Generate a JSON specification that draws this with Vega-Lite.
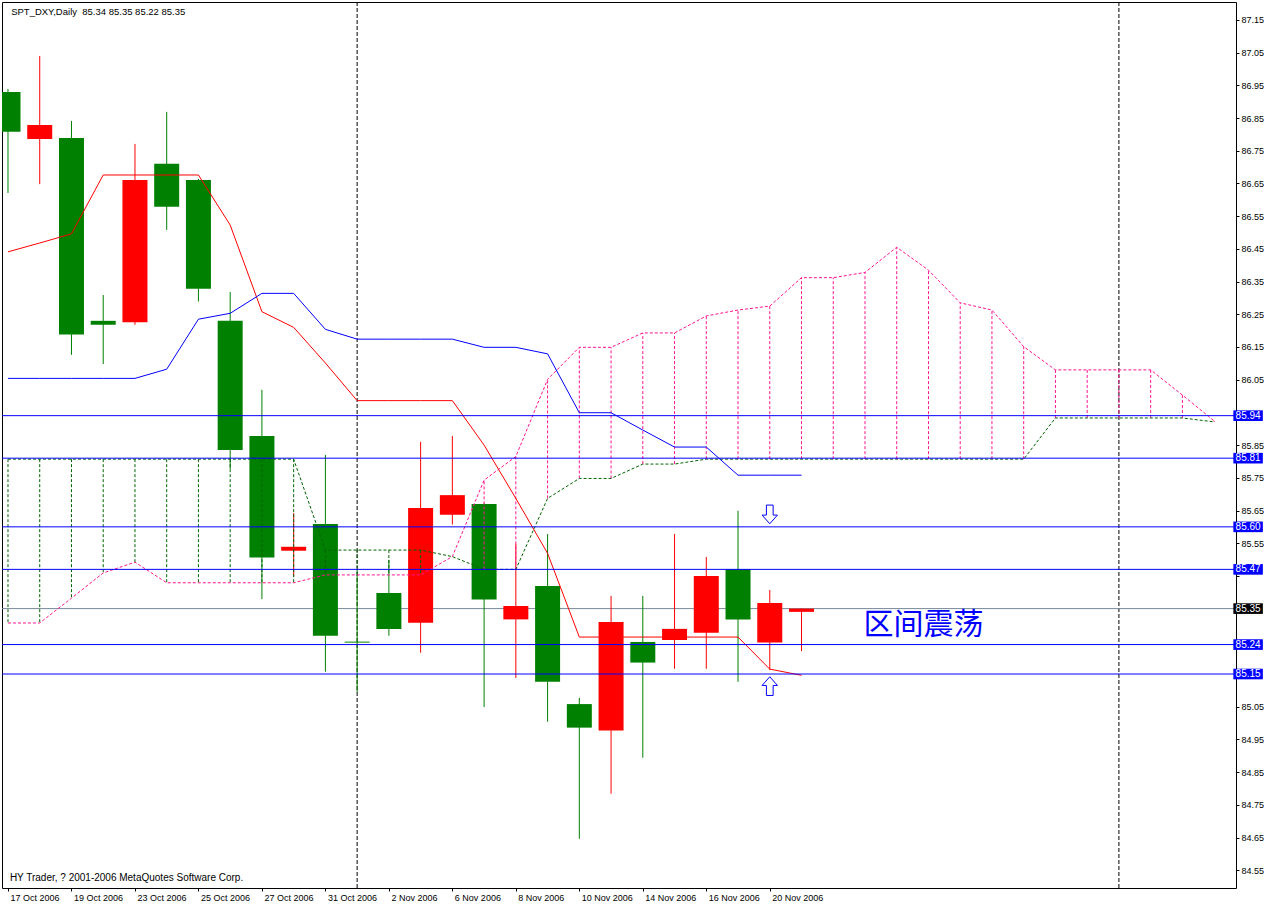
{
  "$schema": "https://vega.github.io/schema/vega-lite/v6.json",
  "width": 1234,
  "height": 886,
  "autosize": {"type": "none"},
  "padding": {"left": 2, "top": 2, "right": 38, "bottom": 17},
  "background": "white",
  "config": {
    "view": {"stroke": "black", "strokeWidth": 1},
    "font": "Liberation Sans",
    "axis": {"labelFont": "Liberation Sans", "labelFontSize": 9, "labelColor": "black", "tickColor": "black", "tickSize": 3, "domain": false, "grid": false, "labelPadding": 2, "labelFlush": false, "labelOverlap": false, "labelBound": false}
  },
  "datasets": {
    "bars": [
      {"i": 0, "o": 86.930, "h": 86.939, "l": 86.621, "c": 86.808, "t": 86.441, "k": 86.054},
      {"i": 1, "o": 86.786, "h": 87.040, "l": 86.648, "c": 86.829, "t": 86.468, "k": 86.054},
      {"i": 2, "o": 86.789, "h": 86.841, "l": 86.126, "c": 86.188, "t": 86.496, "k": 86.054},
      {"i": 3, "o": 86.230, "h": 86.309, "l": 86.098, "c": 86.218, "t": 86.676, "k": 86.054},
      {"i": 4, "o": 86.226, "h": 86.771, "l": 86.218, "c": 86.661, "t": 86.676, "k": 86.054},
      {"i": 5, "o": 86.710, "h": 86.869, "l": 86.508, "c": 86.579, "t": 86.676, "k": 86.082},
      {"i": 6, "o": 86.661, "h": 86.664, "l": 86.289, "c": 86.328, "t": 86.676, "k": 86.235},
      {"i": 7, "o": 86.230, "h": 86.318, "l": 85.777, "c": 85.835, "t": 86.523, "k": 86.253},
      {"i": 8, "o": 85.878, "h": 86.019, "l": 85.379, "c": 85.506, "t": 86.258, "k": 86.314},
      {"i": 9, "o": 85.527, "h": 85.642, "l": 85.447, "c": 85.539, "t": 86.210, "k": 86.314},
      {"i": 10, "o": 85.609, "h": 85.820, "l": 85.157, "c": 85.267, "t": 86.101, "k": 86.204},
      {"i": 11, "o": 85.249, "h": 85.462, "l": 85.095, "c": 85.246, "t": 85.986, "k": 86.174},
      {"i": 12, "o": 85.398, "h": 85.499, "l": 85.267, "c": 85.288, "t": 85.986, "k": 86.174},
      {"i": 13, "o": 85.307, "h": 85.860, "l": 85.215, "c": 85.658, "t": 85.986, "k": 86.174},
      {"i": 14, "o": 85.637, "h": 85.878, "l": 85.607, "c": 85.697, "t": 85.986, "k": 86.174},
      {"i": 15, "o": 85.670, "h": 85.672, "l": 85.049, "c": 85.378, "t": 85.850, "k": 86.149},
      {"i": 16, "o": 85.317, "h": 85.548, "l": 85.138, "c": 85.358, "t": 85.687, "k": 86.149},
      {"i": 17, "o": 85.419, "h": 85.578, "l": 85.004, "c": 85.126, "t": 85.519, "k": 86.129},
      {"i": 18, "o": 85.058, "h": 85.077, "l": 84.646, "c": 84.986, "t": 85.263, "k": 85.949},
      {"i": 19, "o": 84.977, "h": 85.389, "l": 84.784, "c": 85.309, "t": 85.263, "k": 85.949},
      {"i": 20, "o": 85.248, "h": 85.389, "l": 84.894, "c": 85.185, "t": 85.263, "k": 85.896},
      {"i": 21, "o": 85.254, "h": 85.578, "l": 85.166, "c": 85.288, "t": 85.263, "k": 85.844},
      {"i": 22, "o": 85.276, "h": 85.508, "l": 85.166, "c": 85.450, "t": 85.263, "k": 85.844},
      {"i": 23, "o": 85.470, "h": 85.649, "l": 85.126, "c": 85.317, "t": 85.263, "k": 85.758},
      {"i": 24, "o": 85.246, "h": 85.407, "l": 85.162, "c": 85.367, "t": 85.165, "k": 85.758},
      {"i": 25, "o": 85.340, "h": 85.350, "l": 85.220, "c": 85.350, "t": 85.146, "k": 85.758}
    ],
    "cloud": [
      {"i": 0, "a": 85.807, "b": 85.306}, {"i": 1, "a": 85.807, "b": 85.306},
      {"i": 2, "a": 85.807, "b": 85.382}, {"i": 3, "a": 85.807, "b": 85.459},
      {"i": 4, "a": 85.807, "b": 85.492}, {"i": 5, "a": 85.807, "b": 85.429},
      {"i": 6, "a": 85.807, "b": 85.429}, {"i": 7, "a": 85.807, "b": 85.429},
      {"i": 8, "a": 85.807, "b": 85.429}, {"i": 9, "a": 85.807, "b": 85.429},
      {"i": 10, "a": 85.529, "b": 85.453}, {"i": 11, "a": 85.529, "b": 85.453},
      {"i": 12, "a": 85.529, "b": 85.453}, {"i": 13, "a": 85.529, "b": 85.453},
      {"i": 14, "a": 85.509, "b": 85.509}, {"i": 15, "a": 85.470, "b": 85.743},
      {"i": 16, "a": 85.470, "b": 85.815}, {"i": 17, "a": 85.687, "b": 86.051},
      {"i": 18, "a": 85.748, "b": 86.149}, {"i": 19, "a": 85.748, "b": 86.149},
      {"i": 20, "a": 85.792, "b": 86.193}, {"i": 21, "a": 85.792, "b": 86.193},
      {"i": 22, "a": 85.807, "b": 86.245}, {"i": 23, "a": 85.807, "b": 86.263},
      {"i": 24, "a": 85.807, "b": 86.275}, {"i": 25, "a": 85.807, "b": 86.362},
      {"i": 26, "a": 85.807, "b": 86.362}, {"i": 27, "a": 85.807, "b": 86.378},
      {"i": 28, "a": 85.807, "b": 86.455}, {"i": 29, "a": 85.807, "b": 86.385},
      {"i": 30, "a": 85.807, "b": 86.285}, {"i": 31, "a": 85.807, "b": 86.263},
      {"i": 32, "a": 85.807, "b": 86.151}, {"i": 33, "a": 85.933, "b": 86.080},
      {"i": 34, "a": 85.933, "b": 86.080}, {"i": 35, "a": 85.933, "b": 86.080},
      {"i": 36, "a": 85.933, "b": 86.080}, {"i": 37, "a": 85.933, "b": 86.003},
      {"i": 38, "a": 85.921, "b": 85.924}
    ],
    "levels": [
      {"p": 85.94, "k": "level"}, {"p": 85.81, "k": "level"}, {"p": 85.60, "k": "level"},
      {"p": 85.47, "k": "level"}, {"p": 85.24, "k": "level"}, {"p": 85.15, "k": "level"},
      {"p": 85.35, "k": "bid"}
    ],
    "seps": [{"i": 11}, {"i": 35}],
    "one": [{}]
  },
  "layer": [
    {
      "data": {"name": "seps"},
      "mark": {"type": "rule", "color": "black", "strokeWidth": 1, "strokeDash": [4, 2]},
      "encoding": {
        "x": {"field": "i", "type": "quantitative", "scale": {"domain": [-0.03125, 38.53125], "nice": false, "zero": false},
          "axis": {"title": null, "values": [0, 2, 4, 6, 8, 10, 12, 14, 16, 18, 20, 22, 24], "labelExpr": "['17 Oct 2006','19 Oct 2006','23 Oct 2006','25 Oct 2006','27 Oct 2006','31 Oct 2006','2 Nov 2006','6 Nov 2006','8 Nov 2006','10 Nov 2006','14 Nov 2006','16 Nov 2006','20 Nov 2006'][datum.value/2]", "labelAlign": "left", "labelOffset": 2}}
      }
    },
    {
      "data": {"name": "levels"},
      "transform": [{"filter": "datum.k == 'bid'"}],
      "mark": {"type": "rule", "color": "#778899", "strokeWidth": 1},
      "encoding": {
        "y": {"field": "p", "type": "quantitative", "scale": {"domain": [84.4956, 87.205], "nice": false, "zero": false},
          "axis": {"title": null, "orient": "right", "labelExpr": "(datum.value == 85.15 || datum.value == 85.25 || datum.value == 85.35 || datum.value == 85.45 || datum.value == 85.95) ? '' : format(datum.value, '.2f')", "values": [84.55, 84.65, 84.75, 84.85, 84.95, 85.05, 85.15, 85.25, 85.35, 85.45, 85.55, 85.65, 85.75, 85.85, 85.95, 86.05, 86.15, 86.25, 86.35, 86.45, 86.55, 86.65, 86.75, 86.85, 86.95, 87.05, 87.15]}}
      }
    },
    {
      "data": {"name": "bars"},
      "mark": {"type": "rule", "strokeWidth": 1, "clip": true},
      "encoding": {
        "x": {"field": "i", "type": "quantitative", "scale": {"domain": [-0.03125, 38.53125], "nice": false, "zero": false},
          "axis": {"title": null, "values": [0, 2, 4, 6, 8, 10, 12, 14, 16, 18, 20, 22, 24], "labelExpr": "['17 Oct 2006','19 Oct 2006','23 Oct 2006','25 Oct 2006','27 Oct 2006','31 Oct 2006','2 Nov 2006','6 Nov 2006','8 Nov 2006','10 Nov 2006','14 Nov 2006','16 Nov 2006','20 Nov 2006'][datum.value/2]", "labelAlign": "left", "labelOffset": 2}},
        "y": {"field": "l", "type": "quantitative", "scale": {"domain": [84.4956, 87.205], "nice": false, "zero": false},
          "axis": {"title": null, "orient": "right", "labelExpr": "(datum.value == 85.15 || datum.value == 85.25 || datum.value == 85.35 || datum.value == 85.45 || datum.value == 85.95) ? '' : format(datum.value, '.2f')", "values": [84.55, 84.65, 84.75, 84.85, 84.95, 85.05, 85.15, 85.25, 85.35, 85.45, 85.55, 85.65, 85.75, 85.85, 85.95, 86.05, 86.15, 86.25, 86.35, 86.45, 86.55, 86.65, 86.75, 86.85, 86.95, 87.05, 87.15]}},
        "y2": {"field": "h"},
        "color": {"condition": {"test": "datum.c > datum.o", "value": "#ff0000"}, "value": "#008000"}
      }
    },
    {
      "data": {"name": "bars"},
      "mark": {"type": "bar", "width": 25, "clip": true},
      "encoding": {
        "x": {"field": "i", "type": "quantitative", "scale": {"domain": [-0.03125, 38.53125], "nice": false, "zero": false},
          "axis": {"title": null, "values": [0, 2, 4, 6, 8, 10, 12, 14, 16, 18, 20, 22, 24], "labelExpr": "['17 Oct 2006','19 Oct 2006','23 Oct 2006','25 Oct 2006','27 Oct 2006','31 Oct 2006','2 Nov 2006','6 Nov 2006','8 Nov 2006','10 Nov 2006','14 Nov 2006','16 Nov 2006','20 Nov 2006'][datum.value/2]", "labelAlign": "left", "labelOffset": 2}},
        "y": {"field": "o", "type": "quantitative", "scale": {"domain": [84.4956, 87.205], "nice": false, "zero": false},
          "axis": {"title": null, "orient": "right", "labelExpr": "(datum.value == 85.15 || datum.value == 85.25 || datum.value == 85.35 || datum.value == 85.45 || datum.value == 85.95) ? '' : format(datum.value, '.2f')", "values": [84.55, 84.65, 84.75, 84.85, 84.95, 85.05, 85.15, 85.25, 85.35, 85.45, 85.55, 85.65, 85.75, 85.85, 85.95, 86.05, 86.15, 86.25, 86.35, 86.45, 86.55, 86.65, 86.75, 86.85, 86.95, 87.05, 87.15]}},
        "y2": {"field": "c"},
        "color": {"condition": {"test": "datum.c > datum.o", "value": "#ff0000"}, "value": "#008000"}
      }
    },
    {
      "data": {"name": "cloud"},
      "mark": {"type": "rule", "strokeWidth": 1, "strokeDash": [3, 2]},
      "encoding": {
        "x": {"field": "i", "type": "quantitative", "scale": {"domain": [-0.03125, 38.53125], "nice": false, "zero": false},
          "axis": {"title": null, "values": [0, 2, 4, 6, 8, 10, 12, 14, 16, 18, 20, 22, 24], "labelExpr": "['17 Oct 2006','19 Oct 2006','23 Oct 2006','25 Oct 2006','27 Oct 2006','31 Oct 2006','2 Nov 2006','6 Nov 2006','8 Nov 2006','10 Nov 2006','14 Nov 2006','16 Nov 2006','20 Nov 2006'][datum.value/2]", "labelAlign": "left", "labelOffset": 2}},
        "y": {"field": "a", "type": "quantitative", "scale": {"domain": [84.4956, 87.205], "nice": false, "zero": false},
          "axis": {"title": null, "orient": "right", "labelExpr": "(datum.value == 85.15 || datum.value == 85.25 || datum.value == 85.35 || datum.value == 85.45 || datum.value == 85.95) ? '' : format(datum.value, '.2f')", "values": [84.55, 84.65, 84.75, 84.85, 84.95, 85.05, 85.15, 85.25, 85.35, 85.45, 85.55, 85.65, 85.75, 85.85, 85.95, 86.05, 86.15, 86.25, 86.35, 86.45, 86.55, 86.65, 86.75, 86.85, 86.95, 87.05, 87.15]}},
        "y2": {"field": "b"},
        "color": {"condition": {"test": "datum.a >= datum.b", "value": "#006400"}, "value": "#ff1493"}
      }
    },
    {
      "data": {"name": "cloud"},
      "mark": {"type": "line", "color": "#006400", "strokeWidth": 1, "strokeDash": [3, 2]},
      "encoding": {
        "x": {"field": "i", "type": "quantitative", "scale": {"domain": [-0.03125, 38.53125], "nice": false, "zero": false},
          "axis": {"title": null, "values": [0, 2, 4, 6, 8, 10, 12, 14, 16, 18, 20, 22, 24], "labelExpr": "['17 Oct 2006','19 Oct 2006','23 Oct 2006','25 Oct 2006','27 Oct 2006','31 Oct 2006','2 Nov 2006','6 Nov 2006','8 Nov 2006','10 Nov 2006','14 Nov 2006','16 Nov 2006','20 Nov 2006'][datum.value/2]", "labelAlign": "left", "labelOffset": 2}},
        "y": {"field": "a", "type": "quantitative", "scale": {"domain": [84.4956, 87.205], "nice": false, "zero": false},
          "axis": {"title": null, "orient": "right", "labelExpr": "(datum.value == 85.15 || datum.value == 85.25 || datum.value == 85.35 || datum.value == 85.45 || datum.value == 85.95) ? '' : format(datum.value, '.2f')", "values": [84.55, 84.65, 84.75, 84.85, 84.95, 85.05, 85.15, 85.25, 85.35, 85.45, 85.55, 85.65, 85.75, 85.85, 85.95, 86.05, 86.15, 86.25, 86.35, 86.45, 86.55, 86.65, 86.75, 86.85, 86.95, 87.05, 87.15]}}
      }
    },
    {
      "data": {"name": "cloud"},
      "mark": {"type": "line", "color": "#ff1493", "strokeWidth": 1, "strokeDash": [3, 2]},
      "encoding": {
        "x": {"field": "i", "type": "quantitative", "scale": {"domain": [-0.03125, 38.53125], "nice": false, "zero": false},
          "axis": {"title": null, "values": [0, 2, 4, 6, 8, 10, 12, 14, 16, 18, 20, 22, 24], "labelExpr": "['17 Oct 2006','19 Oct 2006','23 Oct 2006','25 Oct 2006','27 Oct 2006','31 Oct 2006','2 Nov 2006','6 Nov 2006','8 Nov 2006','10 Nov 2006','14 Nov 2006','16 Nov 2006','20 Nov 2006'][datum.value/2]", "labelAlign": "left", "labelOffset": 2}},
        "y": {"field": "b", "type": "quantitative", "scale": {"domain": [84.4956, 87.205], "nice": false, "zero": false},
          "axis": {"title": null, "orient": "right", "labelExpr": "(datum.value == 85.15 || datum.value == 85.25 || datum.value == 85.35 || datum.value == 85.45 || datum.value == 85.95) ? '' : format(datum.value, '.2f')", "values": [84.55, 84.65, 84.75, 84.85, 84.95, 85.05, 85.15, 85.25, 85.35, 85.45, 85.55, 85.65, 85.75, 85.85, 85.95, 86.05, 86.15, 86.25, 86.35, 86.45, 86.55, 86.65, 86.75, 86.85, 86.95, 87.05, 87.15]}}
      }
    },
    {
      "data": {"name": "bars"},
      "mark": {"type": "line", "color": "#ff0000", "strokeWidth": 1},
      "encoding": {
        "x": {"field": "i", "type": "quantitative", "scale": {"domain": [-0.03125, 38.53125], "nice": false, "zero": false},
          "axis": {"title": null, "values": [0, 2, 4, 6, 8, 10, 12, 14, 16, 18, 20, 22, 24], "labelExpr": "['17 Oct 2006','19 Oct 2006','23 Oct 2006','25 Oct 2006','27 Oct 2006','31 Oct 2006','2 Nov 2006','6 Nov 2006','8 Nov 2006','10 Nov 2006','14 Nov 2006','16 Nov 2006','20 Nov 2006'][datum.value/2]", "labelAlign": "left", "labelOffset": 2}},
        "y": {"field": "t", "type": "quantitative", "scale": {"domain": [84.4956, 87.205], "nice": false, "zero": false},
          "axis": {"title": null, "orient": "right", "labelExpr": "(datum.value == 85.15 || datum.value == 85.25 || datum.value == 85.35 || datum.value == 85.45 || datum.value == 85.95) ? '' : format(datum.value, '.2f')", "values": [84.55, 84.65, 84.75, 84.85, 84.95, 85.05, 85.15, 85.25, 85.35, 85.45, 85.55, 85.65, 85.75, 85.85, 85.95, 86.05, 86.15, 86.25, 86.35, 86.45, 86.55, 86.65, 86.75, 86.85, 86.95, 87.05, 87.15]}}
      }
    },
    {
      "data": {"name": "bars"},
      "mark": {"type": "line", "color": "#0000ff", "strokeWidth": 1},
      "encoding": {
        "x": {"field": "i", "type": "quantitative", "scale": {"domain": [-0.03125, 38.53125], "nice": false, "zero": false},
          "axis": {"title": null, "values": [0, 2, 4, 6, 8, 10, 12, 14, 16, 18, 20, 22, 24], "labelExpr": "['17 Oct 2006','19 Oct 2006','23 Oct 2006','25 Oct 2006','27 Oct 2006','31 Oct 2006','2 Nov 2006','6 Nov 2006','8 Nov 2006','10 Nov 2006','14 Nov 2006','16 Nov 2006','20 Nov 2006'][datum.value/2]", "labelAlign": "left", "labelOffset": 2}},
        "y": {"field": "k", "type": "quantitative", "scale": {"domain": [84.4956, 87.205], "nice": false, "zero": false},
          "axis": {"title": null, "orient": "right", "labelExpr": "(datum.value == 85.15 || datum.value == 85.25 || datum.value == 85.35 || datum.value == 85.45 || datum.value == 85.95) ? '' : format(datum.value, '.2f')", "values": [84.55, 84.65, 84.75, 84.85, 84.95, 85.05, 85.15, 85.25, 85.35, 85.45, 85.55, 85.65, 85.75, 85.85, 85.95, 86.05, 86.15, 86.25, 86.35, 86.45, 86.55, 86.65, 86.75, 86.85, 86.95, 87.05, 87.15]}}
      }
    },
    {
      "data": {"name": "levels"},
      "transform": [{"filter": "datum.k == 'level'"}],
      "mark": {"type": "rule", "color": "#0000ff", "strokeWidth": 1},
      "encoding": {
        "y": {"field": "p", "type": "quantitative", "scale": {"domain": [84.4956, 87.205], "nice": false, "zero": false},
          "axis": {"title": null, "orient": "right", "labelExpr": "(datum.value == 85.15 || datum.value == 85.25 || datum.value == 85.35 || datum.value == 85.45 || datum.value == 85.95) ? '' : format(datum.value, '.2f')", "values": [84.55, 84.65, 84.75, 84.85, 84.95, 85.05, 85.15, 85.25, 85.35, 85.45, 85.55, 85.65, 85.75, 85.85, 85.95, 86.05, 86.15, 86.25, 86.35, 86.45, 86.55, 86.65, 86.75, 86.85, 86.95, 87.05, 87.15]}}
      }
    },
    {
      "data": {"name": "levels"},
      "mark": {"type": "point", "filled": true, "opacity": 1, "size": 870, "shape": "M-1,-0.36L1,-0.36L1,0.36L-1,0.36Z", "strokeWidth": 0},
      "encoding": {
        "x": {"datum": 39.07, "type": "quantitative", "scale": {"domain": [-0.03125, 38.53125], "nice": false, "zero": false},
          "axis": {"title": null, "values": [0, 2, 4, 6, 8, 10, 12, 14, 16, 18, 20, 22, 24], "labelExpr": "['17 Oct 2006','19 Oct 2006','23 Oct 2006','25 Oct 2006','27 Oct 2006','31 Oct 2006','2 Nov 2006','6 Nov 2006','8 Nov 2006','10 Nov 2006','14 Nov 2006','16 Nov 2006','20 Nov 2006'][datum.value/2]", "labelAlign": "left", "labelOffset": 2}},
        "y": {"field": "p", "type": "quantitative", "scale": {"domain": [84.4956, 87.205], "nice": false, "zero": false},
          "axis": {"title": null, "orient": "right", "labelExpr": "(datum.value == 85.15 || datum.value == 85.25 || datum.value == 85.35 || datum.value == 85.45 || datum.value == 85.95) ? '' : format(datum.value, '.2f')", "values": [84.55, 84.65, 84.75, 84.85, 84.95, 85.05, 85.15, 85.25, 85.35, 85.45, 85.55, 85.65, 85.75, 85.85, 85.95, 86.05, 86.15, 86.25, 86.35, 86.45, 86.55, 86.65, 86.75, 86.85, 86.95, 87.05, 87.15]}},
        "color": {"condition": {"test": "datum.k == 'bid'", "value": "#000000"}, "value": "#0000ff"}
      }
    },
    {
      "data": {"name": "levels"},
      "mark": {"type": "text", "color": "white", "font": "Liberation Sans", "fontSize": 10, "align": "center", "baseline": "middle"},
      "encoding": {
        "x": {"datum": 39.07, "type": "quantitative", "scale": {"domain": [-0.03125, 38.53125], "nice": false, "zero": false},
          "axis": {"title": null, "values": [0, 2, 4, 6, 8, 10, 12, 14, 16, 18, 20, 22, 24], "labelExpr": "['17 Oct 2006','19 Oct 2006','23 Oct 2006','25 Oct 2006','27 Oct 2006','31 Oct 2006','2 Nov 2006','6 Nov 2006','8 Nov 2006','10 Nov 2006','14 Nov 2006','16 Nov 2006','20 Nov 2006'][datum.value/2]", "labelAlign": "left", "labelOffset": 2}},
        "y": {"field": "p", "type": "quantitative", "scale": {"domain": [84.4956, 87.205], "nice": false, "zero": false},
          "axis": {"title": null, "orient": "right", "labelExpr": "(datum.value == 85.15 || datum.value == 85.25 || datum.value == 85.35 || datum.value == 85.45 || datum.value == 85.95) ? '' : format(datum.value, '.2f')", "values": [84.55, 84.65, 84.75, 84.85, 84.95, 85.05, 85.15, 85.25, 85.35, 85.45, 85.55, 85.65, 85.75, 85.85, 85.95, 86.05, 86.15, 86.25, 86.35, 86.45, 86.55, 86.65, 86.75, 86.85, 86.95, 87.05, 87.15]}},
        "text": {"field": "p", "type": "quantitative", "format": ".2f"}
      }
    },
    {
      "data": {"name": "one"},
      "mark": {"type": "text", "color": "black", "font": "Liberation Sans", "fontSize": 9.5, "align": "left", "baseline": "alphabetic"},
      "encoding": {
        "x": {"datum": 0.1, "type": "quantitative", "scale": {"domain": [-0.03125, 38.53125], "nice": false, "zero": false},
          "axis": {"title": null, "values": [0, 2, 4, 6, 8, 10, 12, 14, 16, 18, 20, 22, 24], "labelExpr": "['17 Oct 2006','19 Oct 2006','23 Oct 2006','25 Oct 2006','27 Oct 2006','31 Oct 2006','2 Nov 2006','6 Nov 2006','8 Nov 2006','10 Nov 2006','14 Nov 2006','16 Nov 2006','20 Nov 2006'][datum.value/2]", "labelAlign": "left", "labelOffset": 2}},
        "y": {"datum": 87.165, "type": "quantitative", "scale": {"domain": [84.4956, 87.205], "nice": false, "zero": false},
          "axis": {"title": null, "orient": "right", "labelExpr": "(datum.value == 85.15 || datum.value == 85.25 || datum.value == 85.35 || datum.value == 85.45 || datum.value == 85.95) ? '' : format(datum.value, '.2f')", "values": [84.55, 84.65, 84.75, 84.85, 84.95, 85.05, 85.15, 85.25, 85.35, 85.45, 85.55, 85.65, 85.75, 85.85, 85.95, 86.05, 86.15, 86.25, 86.35, 86.45, 86.55, 86.65, 86.75, 86.85, 86.95, 87.05, 87.15]}},
        "text": {"value": "SPT_DXY,Daily\u00a0\u00a085.34 85.35 85.22 85.35"}
      }
    },
    {
      "data": {"name": "one"},
      "mark": {"type": "text", "color": "black", "font": "Liberation Sans", "fontSize": 10, "align": "left", "baseline": "alphabetic"},
      "encoding": {
        "x": {"datum": 0.06, "type": "quantitative", "scale": {"domain": [-0.03125, 38.53125], "nice": false, "zero": false},
          "axis": {"title": null, "values": [0, 2, 4, 6, 8, 10, 12, 14, 16, 18, 20, 22, 24], "labelExpr": "['17 Oct 2006','19 Oct 2006','23 Oct 2006','25 Oct 2006','27 Oct 2006','31 Oct 2006','2 Nov 2006','6 Nov 2006','8 Nov 2006','10 Nov 2006','14 Nov 2006','16 Nov 2006','20 Nov 2006'][datum.value/2]", "labelAlign": "left", "labelOffset": 2}},
        "y": {"datum": 84.517, "type": "quantitative", "scale": {"domain": [84.4956, 87.205], "nice": false, "zero": false},
          "axis": {"title": null, "orient": "right", "labelExpr": "(datum.value == 85.15 || datum.value == 85.25 || datum.value == 85.35 || datum.value == 85.45 || datum.value == 85.95) ? '' : format(datum.value, '.2f')", "values": [84.55, 84.65, 84.75, 84.85, 84.95, 85.05, 85.15, 85.25, 85.35, 85.45, 85.55, 85.65, 85.75, 85.85, 85.95, 86.05, 86.15, 86.25, 86.35, 86.45, 86.55, 86.65, 86.75, 86.85, 86.95, 87.05, 87.15]}},
        "text": {"value": "HY Trader, ? 2001-2006 MetaQuotes Software Corp."}
      }
    },
    {
      "data": {"name": "one"},
      "mark": {"type": "text", "color": "#0000ff", "font": "Noto Sans CJK SC", "fontSize": 30, "align": "center", "baseline": "middle"},
      "encoding": {
        "x": {"datum": 28.84, "type": "quantitative", "scale": {"domain": [-0.03125, 38.53125], "nice": false, "zero": false},
          "axis": {"title": null, "values": [0, 2, 4, 6, 8, 10, 12, 14, 16, 18, 20, 22, 24], "labelExpr": "['17 Oct 2006','19 Oct 2006','23 Oct 2006','25 Oct 2006','27 Oct 2006','31 Oct 2006','2 Nov 2006','6 Nov 2006','8 Nov 2006','10 Nov 2006','14 Nov 2006','16 Nov 2006','20 Nov 2006'][datum.value/2]", "labelAlign": "left", "labelOffset": 2}},
        "y": {"datum": 85.30, "type": "quantitative", "scale": {"domain": [84.4956, 87.205], "nice": false, "zero": false},
          "axis": {"title": null, "orient": "right", "labelExpr": "(datum.value == 85.15 || datum.value == 85.25 || datum.value == 85.35 || datum.value == 85.45 || datum.value == 85.95) ? '' : format(datum.value, '.2f')", "values": [84.55, 84.65, 84.75, 84.85, 84.95, 85.05, 85.15, 85.25, 85.35, 85.45, 85.55, 85.65, 85.75, 85.85, 85.95, 86.05, 86.15, 86.25, 86.35, 86.45, 86.55, 86.65, 86.75, 86.85, 86.95, 87.05, 87.15]}},
        "text": {"value": "区间震荡"}
      }
    },
    {
      "data": {"name": "one"},
      "mark": {"type": "point", "filled": true, "fill": "white", "stroke": "#0000ff", "strokeWidth": 1, "opacity": 1, "size": 350, "shape": "M-0.36,-1L0.36,-1L0.36,0.07L0.82,0.07L0,1L-0.82,0.07L-0.36,0.07Z"},
      "encoding": {
        "x": {"datum": 24, "type": "quantitative", "scale": {"domain": [-0.03125, 38.53125], "nice": false, "zero": false},
          "axis": {"title": null, "values": [0, 2, 4, 6, 8, 10, 12, 14, 16, 18, 20, 22, 24], "labelExpr": "['17 Oct 2006','19 Oct 2006','23 Oct 2006','25 Oct 2006','27 Oct 2006','31 Oct 2006','2 Nov 2006','6 Nov 2006','8 Nov 2006','10 Nov 2006','14 Nov 2006','16 Nov 2006','20 Nov 2006'][datum.value/2]", "labelAlign": "left", "labelOffset": 2}},
        "y": {"datum": 85.638, "type": "quantitative", "scale": {"domain": [84.4956, 87.205], "nice": false, "zero": false},
          "axis": {"title": null, "orient": "right", "labelExpr": "(datum.value == 85.15 || datum.value == 85.25 || datum.value == 85.35 || datum.value == 85.45 || datum.value == 85.95) ? '' : format(datum.value, '.2f')", "values": [84.55, 84.65, 84.75, 84.85, 84.95, 85.05, 85.15, 85.25, 85.35, 85.45, 85.55, 85.65, 85.75, 85.85, 85.95, 86.05, 86.15, 86.25, 86.35, 86.45, 86.55, 86.65, 86.75, 86.85, 86.95, 87.05, 87.15]}}
      }
    },
    {
      "data": {"name": "one"},
      "mark": {"type": "point", "filled": true, "fill": "white", "stroke": "#0000ff", "strokeWidth": 1, "opacity": 1, "size": 350, "shape": "M-0.36,1L0.36,1L0.36,-0.07L0.82,-0.07L0,-1L-0.82,-0.07L-0.36,-0.07Z"},
      "encoding": {
        "x": {"datum": 24, "type": "quantitative", "scale": {"domain": [-0.03125, 38.53125], "nice": false, "zero": false},
          "axis": {"title": null, "values": [0, 2, 4, 6, 8, 10, 12, 14, 16, 18, 20, 22, 24], "labelExpr": "['17 Oct 2006','19 Oct 2006','23 Oct 2006','25 Oct 2006','27 Oct 2006','31 Oct 2006','2 Nov 2006','6 Nov 2006','8 Nov 2006','10 Nov 2006','14 Nov 2006','16 Nov 2006','20 Nov 2006'][datum.value/2]", "labelAlign": "left", "labelOffset": 2}},
        "y": {"datum": 85.113, "type": "quantitative", "scale": {"domain": [84.4956, 87.205], "nice": false, "zero": false},
          "axis": {"title": null, "orient": "right", "labelExpr": "(datum.value == 85.15 || datum.value == 85.25 || datum.value == 85.35 || datum.value == 85.45 || datum.value == 85.95) ? '' : format(datum.value, '.2f')", "values": [84.55, 84.65, 84.75, 84.85, 84.95, 85.05, 85.15, 85.25, 85.35, 85.45, 85.55, 85.65, 85.75, 85.85, 85.95, 86.05, 86.15, 86.25, 86.35, 86.45, 86.55, 86.65, 86.75, 86.85, 86.95, 87.05, 87.15]}}
      }
    }
  ]
}
